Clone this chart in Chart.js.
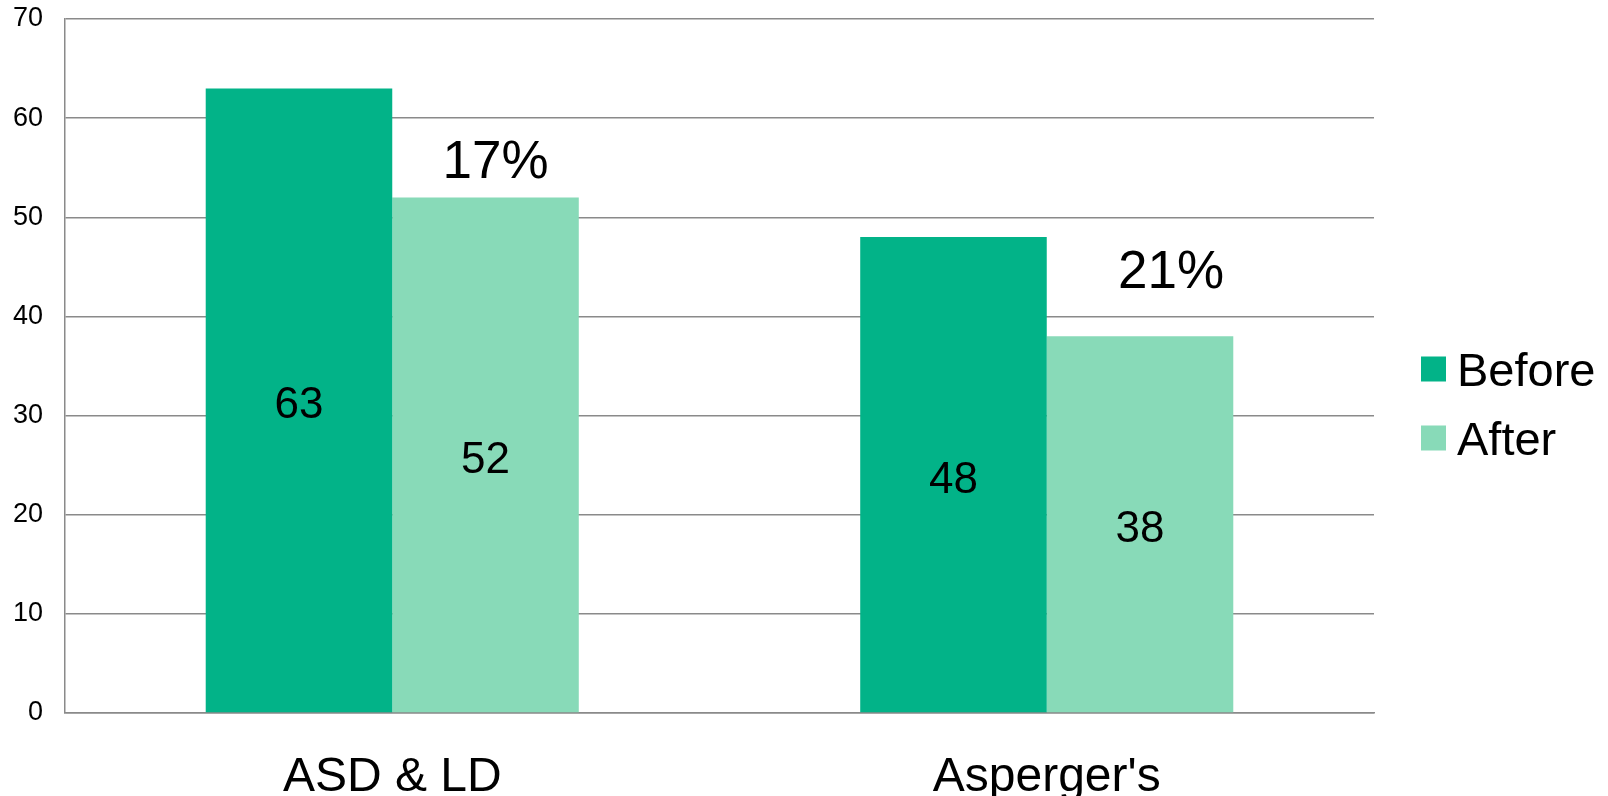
<!DOCTYPE html>
<html>
<head>
<meta charset="utf-8">
<script src="https://cdn.jsdelivr.net/npm/chart.js@4.4.1/dist/chart.umd.min.js"></script>
<style>
    html, body { margin: 0; padding: 0; background: #fff; }
    #wrap { width: 1608px; height: 796px; position: relative; }
</style>
</head>
<body>
<div id="wrap"><canvas id="groupChart"></canvas></div>
<script>
const categories = ['ASD & LD', "Asperger's"];
const beforeValues = [63, 48];
const afterValues = [52, 38];
const changeLabels = ['17%', '21%'];
const yTicks = [0, 10, 20, 30, 40, 50, 60, 70];

const FONT = "'Liberation Sans', Arial, sans-serif";
const GRID = '#8a8a8a';

// 막대 안 값 표시
const valueLabels = {
    id: 'valueLabels',
    afterDatasetsDraw(chart) {
        const ctx = chart.ctx;
        ctx.save();
        ctx.font = '44px ' + FONT;
        ctx.fillStyle = '#000';
        ctx.textAlign = 'center';
        ctx.textBaseline = 'middle';
        chart.data.datasets.forEach((ds, i) => {
            chart.getDatasetMeta(i).data.forEach((bar, j) => {
                ctx.fillText(ds.data[j], bar.x, (bar.y + bar.base) / 2 + 6);
            });
        });
        ctx.restore();
    }
};

// 감소율 표시 (After 막대 위)
const changeText = {
    id: 'changeText',
    afterDatasetsDraw(chart, args, opts) {
        const ctx = chart.ctx;
        const meta = chart.getDatasetMeta(1);
        ctx.save();
        ctx.font = '53px ' + FONT;
        ctx.fillStyle = '#000';
        ctx.textAlign = 'center';
        ctx.textBaseline = 'middle';
        meta.data.forEach((bar, j) => {
            const off = opts.offsets[j];
            ctx.fillText(changeLabels[j], bar.x + off[0], bar.y + off[1]);
        });
        ctx.restore();
    }
};

// 오른쪽 범례
const sideLegend = {
    id: 'sideLegend',
    afterDraw(chart) {
        const ctx = chart.ctx;
        const x = chart.chartArea.right + 47;
        const yStart = 369;
        ctx.save();
        ctx.font = '47px ' + FONT;
        ctx.textBaseline = 'middle';
        chart.data.datasets.forEach((ds, i) => {
            const cy = yStart + i * 69;
            ctx.fillStyle = ds.backgroundColor;
            ctx.fillRect(x, cy - 12.5, 25, 25);
            ctx.fillStyle = '#000';
            ctx.fillText(ds.label, x + 36, cy + 4);
        });
        ctx.restore();
    }
};

new Chart(document.getElementById('groupChart').getContext('2d'), {
    type: 'bar',
    data: {
        labels: categories,
        datasets: [
            {
                label: 'Before',
                data: beforeValues,
                backgroundColor: '#02b388',
                categoryPercentage: 0.57,
                barPercentage: 1.0
            },
            {
                label: 'After',
                data: afterValues,
                backgroundColor: '#88dab8',
                categoryPercentage: 0.57,
                barPercentage: 1.0
            }
        ]
    },
    options: {
        responsive: true,
        maintainAspectRatio: false,
        animation: false,
        layout: {
            padding: { left: 0, right: 234, top: 19, bottom: 0 }
        },
        scales: {
            x: {
                afterFit: scale => { scale.height = 83; },
                grid: { display: false, drawTicks: false },
                border: { display: true, color: GRID, width: 1.5 },
                ticks: {
                    color: '#000',
                    padding: 36,
                    font: { family: FONT, size: 48 }
                }
            },
            y: {
                min: 0,
                max: 70,
                afterFit: scale => {
                    scale.width = 65;
                    scale.paddingTop = 0;
                    scale.paddingBottom = 0;
                },
                afterBuildTicks: scale => {
                    scale.ticks = yTicks.map(v => ({ value: v }));
                },
                grid: { color: GRID, lineWidth: 1.5, drawTicks: false },
                border: { display: true, color: GRID, width: 1.5 },
                ticks: {
                    color: '#000',
                    padding: 22,
                    font: { family: FONT, size: 27 }
                }
            }
        },
        plugins: {
            legend: { display: false },
            tooltip: { enabled: false },
            changeText: { offsets: [[10, -34], [31, -63]] }
        }
    },
    plugins: [valueLabels, changeText, sideLegend]
});
</script>
</body>
</html>
